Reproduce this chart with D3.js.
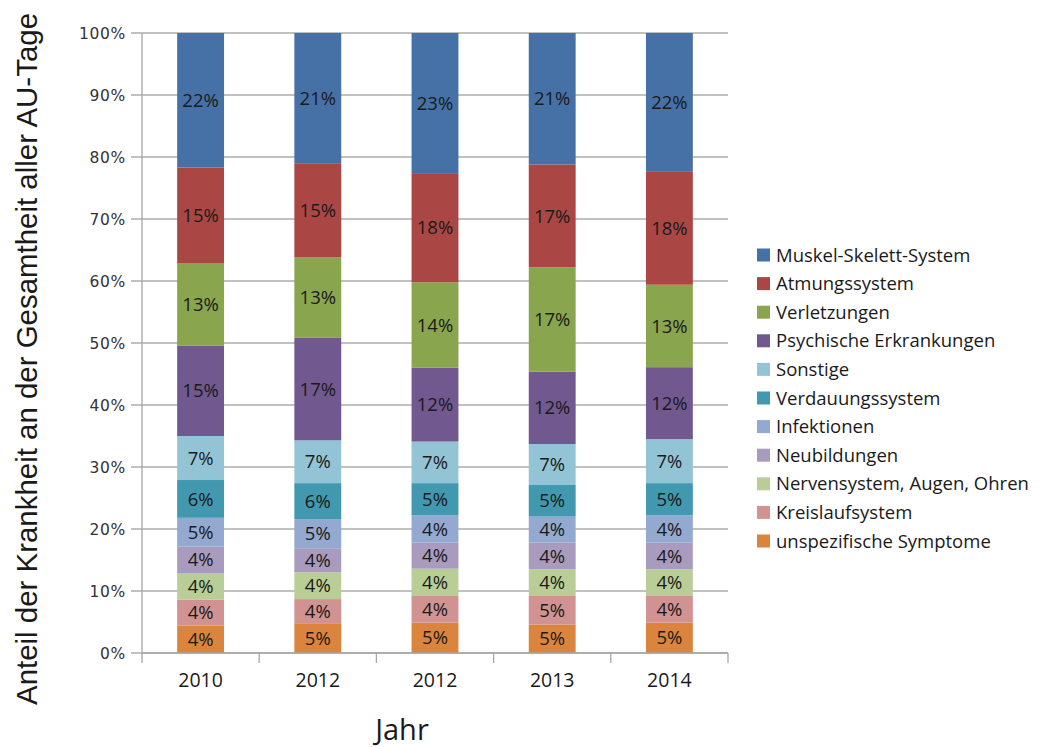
<!DOCTYPE html>
<html><head><meta charset="utf-8">
<script src="https://cdn.jsdelivr.net/npm/d3@7"></script>
<style>
body{margin:0;background:#fff;}
svg{display:block;}
</style></head>
<body>
<svg id="c" width="1045" height="747"></svg>
<script>
const years = ["2010","2012","2012","2013","2014"];
const seriesNames = ["Muskel-Skelett-System","Atmungssystem","Verletzungen","Psychische Erkrankungen","Sonstige","Verdauungssystem","Infektionen","Neubildungen","Nervensystem, Augen, Ohren","Kreislaufsystem","unspezifische Symptome"];
const seriesColors = ["#4671a6","#aa4744","#89a54e","#71588f","#93c4d6","#4198af","#93a9cf","#a99bbd","#b9cd96","#d19392","#db843d"];
// values in percent, one array per series (order: 2010, 2012, 2012, 2013, 2014)
const muskel     = [21.7, 21.0, 22.6, 21.2, 22.4];
const atmung     = [15.4, 15.2, 17.6, 16.6, 18.2];
const verletz    = [13.3, 12.9, 13.8, 16.8, 13.3];
const psych      = [14.6, 16.6, 11.9, 11.7, 11.6];
const sonstige   = [7.1, 6.9, 6.7, 6.6, 7.1];
const verdauung  = [6.1, 5.8, 5.2, 5.1, 5.2];
const infekt     = [4.6, 4.7, 4.4, 4.2, 4.4];
const neubild    = [4.3, 3.9, 4.2, 4.3, 4.3];
const nerven     = [4.3, 4.3, 4.3, 4.3, 4.2];
const kreislauf  = [4.2, 3.9, 4.4, 4.6, 4.4];
const unspez     = [4.4, 4.8, 4.9, 4.6, 4.9];
const yTicks = [0,10,20,30,40,50,60,70,80,90,100];

const seriesValues = [muskel, atmung, verletz, psych, sonstige, verdauung, infekt, neubild, nerven, kreislauf, unspez];
const table = years.map((y,i)=>{
  const row = {idx:i};
  seriesNames.forEach((s,k)=>row[s]=seriesValues[k][i]);
  return row;
});
const stackKeys = seriesNames.slice().reverse();
const stacked = d3.stack().keys(stackKeys).offset(d3.stackOffsetExpand)(table);

const svg = d3.select("#c");
const L = 142, R = 728, T = 33, B = 653;
const x = d3.scaleBand().domain(d3.range(years.length)).range([L,R]).paddingInner(0.6).paddingOuter(0.3);
const y = d3.scaleLinear().domain([0,1]).range([B,T]);

svg.append("g").selectAll("line").data(yTicks).join("line")
  .attr("x1",L-11).attr("x2",R).attr("y1",d=>y(d/100)).attr("y2",d=>y(d/100))
  .attr("stroke","#adadad").attr("stroke-width",1.3);

svg.append("line").attr("x1",L).attr("x2",L).attr("y1",T).attr("y2",B)
  .attr("stroke","#a6a6a6").attr("stroke-width",1.3);

svg.append("g").selectAll("text").data(yTicks).join("text")
  .attr("x",126).attr("y",d=>y(d/100)).attr("dy","0.36em")
  .attr("text-anchor","end")
  .attr("font-family","DejaVu Sans, Verdana, sans-serif").attr("font-size",15.5)
  .attr("letter-spacing",0.7)
  .attr("fill","#333").text(d=>d+"%");

const g = svg.append("g");
stacked.forEach(layer=>{
  const ci = seriesNames.indexOf(layer.key);
  g.append("g").selectAll("rect").data(layer).join("rect")
    .attr("x",d=>x(d.data.idx)).attr("width",x.bandwidth())
    .attr("y",d=>y(d[1])).attr("height",d=>y(d[0])-y(d[1]))
    .attr("fill",seriesColors[ci]);
});
stacked.forEach(layer=>{
  g.append("g").selectAll("text").data(layer).join("text")
    .attr("x",d=>x(d.data.idx)+x.bandwidth()/2)
    .attr("y",d=>(y(d[0])+y(d[1]))/2).attr("dy","0.36em")
    .attr("text-anchor","middle")
    .attr("font-family","Open Sans, sans-serif").attr("font-size",18.5)
    .attr("fill","#1a1a1a")
    .text(d=>Math.round((d[1]-d[0])*100)+"%");
});

const xa = svg.append("g");
xa.append("line").attr("x1",L).attr("x2",R).attr("y1",B).attr("y2",B)
  .attr("stroke","#a6a6a6").attr("stroke-width",1.3);
const bounds = d3.range(years.length+1).map(i=> i<years.length ? x(i)-x.step()*x.paddingInner()/2 : R);
bounds[0]=L;
xa.selectAll(".tk").data(bounds).join("line").attr("class","tk")
  .attr("x1",d=>d).attr("x2",d=>d).attr("y1",B).attr("y2",B+10)
  .attr("stroke","#a6a6a6").attr("stroke-width",1.3);
xa.selectAll("text").data(years).join("text")
  .attr("x",(d,i)=>x(i)+x.bandwidth()/2).attr("y",687)
  .attr("text-anchor","middle")
  .attr("font-family","Open Sans, sans-serif").attr("font-size",19.5)
  .attr("fill","#1a1a1a").text(d=>d);

svg.append("text").attr("x",402).attr("y",740).attr("text-anchor","middle")
  .attr("font-family","Open Sans, sans-serif").attr("font-size",29)
  .attr("fill","#1a1a1a").text("Jahr");
svg.append("text").attr("transform","translate(37,359) rotate(-90)")
  .attr("text-anchor","middle")
  .attr("font-family","Liberation Sans, Arial, sans-serif").attr("font-size",29)
  .attr("textLength",692).attr("lengthAdjust","spacingAndGlyphs")
  .attr("fill","#1a1a1a").text("Anteil der Krankheit an der Gesamtheit aller AU-Tage");

const lg = svg.append("g");
const rows = lg.selectAll("g").data(seriesNames).join("g")
  .attr("transform",(d,i)=>`translate(757,${255+i*28.6})`);
rows.append("rect").attr("x",0).attr("y",-6.5).attr("width",13).attr("height",13)
  .attr("fill",(d,i)=>seriesColors[i]);
rows.append("text").attr("x",19).attr("y",0).attr("dy","0.36em")
  .attr("font-family","Open Sans, sans-serif").attr("font-size",18.5)
  .attr("fill","#1a1a1a").text(d=>d);
</script>
</body></html>
